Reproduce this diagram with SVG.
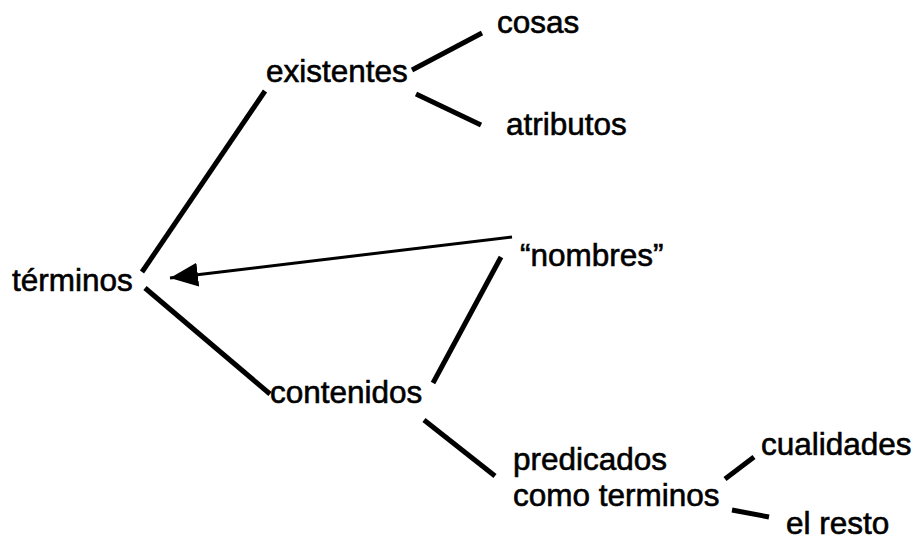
<svg xmlns="http://www.w3.org/2000/svg" width="918" height="542" viewBox="0 0 918 542">
<style>
text{font-family:"Liberation Sans",Arial,sans-serif;font-size:31.5px;fill:#000;stroke:#000;stroke-width:0.6}
.c{stroke:#000;stroke-width:5;fill:none}
.a{stroke:#000;stroke-width:3;fill:none}
</style>
<defs>
<marker id="ah" markerUnits="userSpaceOnUse" markerWidth="30" markerHeight="24" refX="28" refY="12" orient="auto">
<path d="M0,0 L28,12 L0,24 Z" fill="#000"/>
</marker>
</defs>
<rect width="918" height="542" fill="#fff"/>
<g id="connectors">
<line class="c" x1="142" y1="272" x2="265" y2="91"/>
<line class="c" x1="145" y1="288" x2="270" y2="394"/>
<line class="c" x1="412" y1="70" x2="482" y2="33"/>
<line class="c" x1="416" y1="94" x2="481" y2="125"/>
<line class="c" x1="501" y1="257" x2="433" y2="383"/>
<line class="c" x1="424" y1="420" x2="495" y2="476"/>
<line class="c" x1="725" y1="479" x2="754" y2="457"/>
<line class="c" x1="732" y1="510" x2="769" y2="517"/>
<line class="a" x1="512" y1="237" x2="170" y2="278" marker-end="url(#ah)"/>
</g>
<g id="terminos"><text x="12" y="291">términos</text></g>
<g id="existentes"><text x="266" y="82">existentes</text></g>
<g id="cosas"><text x="497" y="33">cosas</text></g>
<g id="atributos"><text x="506" y="135">atributos</text></g>
<g id="nombres"><text x="520" y="266">“nombres”</text></g>
<g id="contenidos"><text x="270" y="403">contenidos</text></g>
<g id="predicados"><text x="513" y="470">predicados</text><text x="513" y="506">como terminos</text></g>
<g id="cualidades"><text x="761" y="455">cualidades</text></g>
<g id="elresto"><text x="786" y="534">el resto</text></g>
</svg>
